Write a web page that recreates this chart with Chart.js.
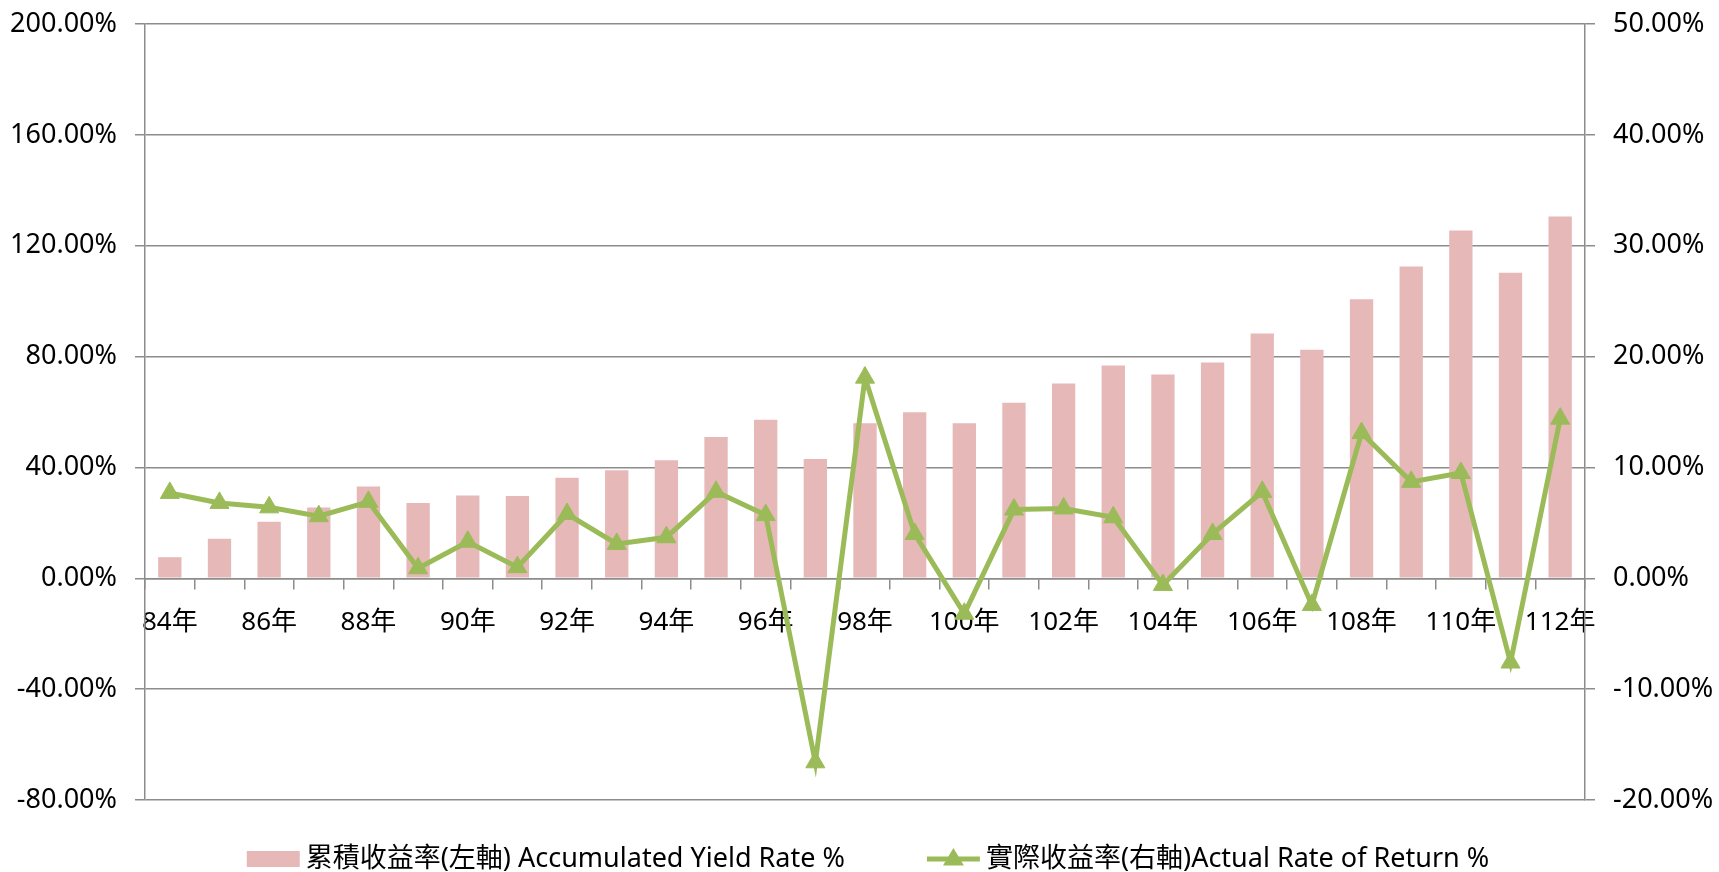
<!DOCTYPE html>
<html>
<head>
<meta charset="utf-8">
<title>累積收益率 / 實際收益率</title>
<script src="https://cdn.jsdelivr.net/npm/chart.js@4.4.1/dist/chart.umd.min.js"></script>
<style>
  html, body { margin: 0; padding: 0; background: #fff; }
  #wrap { width: 1719px; height: 872px; position: relative; }
</style>
</head>
<body>
<div id="wrap"><canvas id="chart"></canvas></div>
<script>
// categories (ROC years)
const years = ['84年','85年','86年','87年','88年','89年','90年','91年','92年','93年',
  '94年','95年','96年','97年','98年','99年','100年','101年','102年','103年',
  '104年','105年','106年','107年','108年','109年','110年','111年','112年'];

// left axis: accumulated yield rate (%)
const accumulated = [7.6, 14.3, 20.4, 25.5, 33.1, 27.2, 29.9, 29.7, 36.3, 39.0,
  42.6, 51.0, 57.2, 43.0, 55.9, 59.9, 55.9, 63.3, 70.3, 76.8,
  73.5, 77.9, 88.3, 82.5, 100.7, 112.5, 125.5, 110.2, 130.5];

// right axis: actual rate of return (%)
const actual = [7.7, 6.8, 6.4, 5.6, 6.9, 0.9, 3.3, 1.0, 5.8, 3.1,
  3.7, 7.8, 5.7, -16.6, 18.1, 4.0, -3.2, 6.2, 6.3, 5.5,
  -0.6, 4.0, 7.8, -2.4, 13.1, 8.7, 9.5, -7.6, 14.4];

const leftTicks = { min: -80, max: 200, step: 40 };
const rightTicks = { min: -20, max: 50, step: 10 };

const barLabel = '累積收益率(左軸) Accumulated Yield Rate %';
const lineLabel = '實際收益率(右軸)Actual Rate of Return %';

const barColor = '#E6B9B8';
const lineColor = '#9BBB59';
const gridColor = '#8c8c8c';
const fontFamily = '"Noto Sans", "Noto Sans CJK TC", sans-serif';

// legend drawn at the bottom, like the excel one
const bottomLegend = {
  id: 'bottomLegend',
  afterDraw(chart) {
    const ctx = chart.ctx;
    ctx.save();
    ctx.font = '27px ' + fontFamily;
    ctx.textBaseline = 'middle';
    ctx.fillStyle = '#000';
    const w1 = ctx.measureText(barLabel).width;
    const w2 = ctx.measureText(lineLabel).width;
    const sym = 53, gap = 6, between = 82;
    const total = sym + gap + w1 + between + sym + gap + w2;
    let x = 868 - total / 2;
    const y = 859;

    ctx.fillStyle = barColor;
    ctx.fillRect(x, y - 8, sym, 16);
    ctx.fillStyle = '#000';
    ctx.fillText(barLabel, x + sym + gap, y);
    x += sym + gap + w1 + between;

    ctx.strokeStyle = lineColor;
    ctx.lineWidth = 5;
    ctx.beginPath();
    ctx.moveTo(x, y);
    ctx.lineTo(x + sym, y);
    ctx.stroke();
    const cx = x + sym / 2, r = 11;
    ctx.fillStyle = lineColor;
    ctx.beginPath();
    ctx.moveTo(cx, y - r);
    ctx.lineTo(cx + r * 0.95, y + r * 0.6);
    ctx.lineTo(cx - r * 0.95, y + r * 0.6);
    ctx.closePath();
    ctx.fill();
    ctx.fillStyle = '#000';
    ctx.fillText(lineLabel, x + sym + gap, y);
    ctx.restore();
  }
};

// keep the y axes from pushing the plot area down (tick padding adds to it)
function fixAxis(width) {
  return function (scale) {
    scale.width = width;
    scale.paddingTop = 10;
    scale.paddingBottom = 10;
  };
}

const ctx = document.getElementById('chart').getContext('2d');
new Chart(ctx, {
  data: {
    labels: years,
    datasets: [
      {
        type: 'line',
        label: lineLabel,
        data: actual,
        yAxisID: 'y2',
        borderColor: lineColor,
        backgroundColor: lineColor,
        borderWidth: 5,
        pointStyle: 'triangle',
        pointRadius: 11,
        pointBorderWidth: 1,
        pointBackgroundColor: lineColor,
        pointBorderColor: lineColor,
        tension: 0,
        order: 0
      },
      {
        type: 'bar',
        label: barLabel,
        data: accumulated,
        yAxisID: 'y',
        backgroundColor: barColor,
        barPercentage: 0.47,
        categoryPercentage: 1,
        order: 1
      }
    ]
  },
  options: {
    responsive: true,
    maintainAspectRatio: false,
    animation: false,
    layout: { padding: { top: 24, bottom: 72, left: 0, right: 0 } },
    plugins: {
      legend: { display: false },
      tooltip: { enabled: false }
    },
    scales: {
      x: {
        position: { y: 0 },
        offset: true,
        grid: {
          offset: true,
          drawOnChartArea: false,
          drawTicks: true,
          tickLength: 10,
          color: gridColor,
          lineWidth: 1.5
        },
        border: { display: true, color: gridColor, width: 1.5 },
        ticks: {
          autoSkip: false,
          maxRotation: 0,
          padding: 19,
          color: '#000',
          font: { family: fontFamily, size: 26 },
          callback: function (v, i) { return i % 2 === 0 ? years[i] : ''; }
        }
      },
      y: {
        position: 'left',
        min: leftTicks.min,
        max: leftTicks.max,
        afterFit: fixAxis(145),
        grid: { color: gridColor, lineWidth: 1.5, tickLength: 10 },
        border: { display: true, color: gridColor, width: 1.5 },
        ticks: {
          stepSize: leftTicks.step,
          padding: 18,
          color: '#000',
          font: { family: fontFamily, size: 27 },
          callback: v => v.toFixed(2) + '%'
        }
      },
      y2: {
        position: 'right',
        min: rightTicks.min,
        max: rightTicks.max,
        afterFit: fixAxis(134),
        grid: { drawOnChartArea: false, color: gridColor, lineWidth: 1.5, tickLength: 10 },
        border: { display: true, color: gridColor, width: 1.5 },
        ticks: {
          stepSize: rightTicks.step,
          padding: 18,
          color: '#000',
          font: { family: fontFamily, size: 27 },
          callback: v => v.toFixed(2) + '%'
        }
      }
    }
  },
  plugins: [bottomLegend]
});
</script>
</body>
</html>
